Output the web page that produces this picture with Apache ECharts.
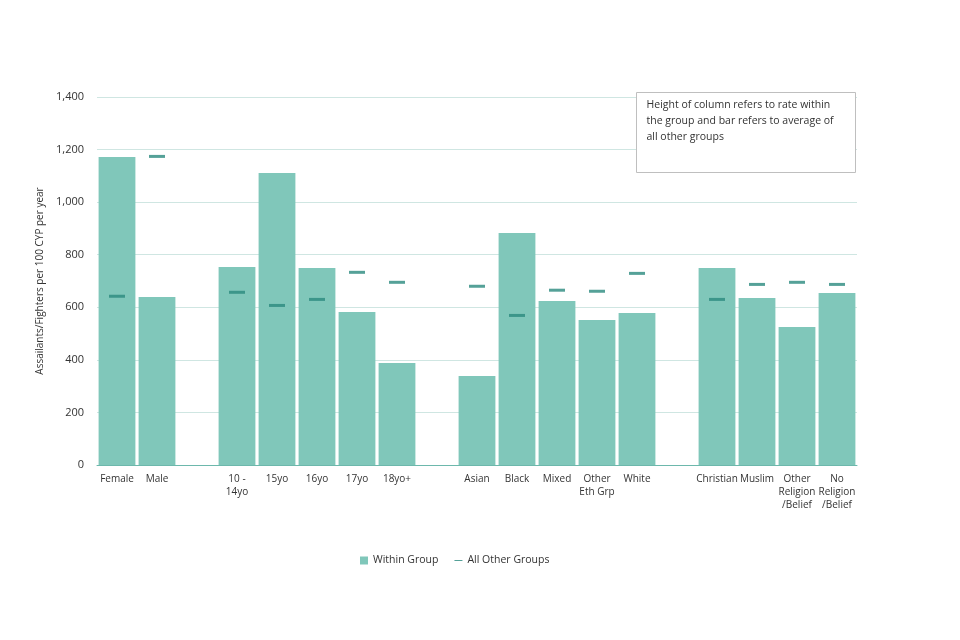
<!DOCTYPE html>
<html>
<head>
<meta charset="utf-8">
<script src="https://cdn.jsdelivr.net/npm/echarts@6/dist/echarts.min.js"></script>
<style>
html,body{margin:0;padding:0;background:#fff;}
#chart{width:960px;height:640px;}
</style>
</head>
<body>
<div id="chart"></div>
<script>
// Categories (blank entries are gaps between groups)
var categories = ['Female', 'Male', ' ', '10 -\n14yo', '15yo', '16yo', '17yo', '18yo+', '  ',
  'Asian', 'Black', 'Mixed', 'Other\nEth Grp', 'White', '   ',
  'Christian', 'Muslim', 'Other\nReligion\n/Belief', 'No\nReligion\n/Belief'];
// Rate within the group (column height)
var withinGroup = [1172, 639, null, 753, 1111, 749, 582, 388, null,
  339, 883, 624, 552, 578, null,
  749, 635, 525, 654];
// Average of all other groups (dash marker)
var allOtherGroups = [642, 1174, null, 657, 607, 630, 733, 695, null,
  680, 569, 665, 661, 729, null,
  630, 687, 695, 687];
var yTicks = { min: 0, max: 1400, interval: 200 };
var noteText = 'Height of column refers to rate within\nthe group and bar refers to average of\nall other groups';

var chart = echarts.init(document.getElementById('chart'), null, { renderer: 'canvas' });
var font = "'Open Sans', 'Noto Sans', sans-serif";
chart.setOption({
  backgroundColor: '#ffffff',
  animation: false,
  textStyle: { fontFamily: font },
  grid: { left: 97, right: 103, top: 97, bottom: 175 },
  legend: {
    bottom: 69,
    left: 355,
    itemGap: 16,
    itemWidth: 8,
    itemHeight: 8,
    textStyle: { fontSize: 10.5, color: '#333', fontFamily: font },
    data: [
      { name: 'Within Group', icon: 'rect' },
      { name: 'All Other Groups', icon: 'path://M0,0L0,0ZM0,3.5L8,3.5L8,4.5L0,4.5ZM8,8L8,8Z' }
    ]
  },
  xAxis: {
    type: 'category',
    data: categories,
    axisLine: { lineStyle: { color: '#6DB8AC', width: 1 } },
    axisTick: { show: false },
    axisLabel: { fontSize: 10, color: '#333', interval: 0, lineHeight: 13, margin: 8, fontFamily: font }
  },
  yAxis: {
    type: 'value',
    min: yTicks.min, max: yTicks.max, interval: yTicks.interval,
    name: 'Assailants/Fighters per 100 CYP per year',
    nameLocation: 'middle',
    nameGap: 46,
    nameTextStyle: { fontSize: 10, color: '#333', fontFamily: font },
    axisLine: { show: false },
    axisTick: { show: false },
    axisLabel: { fontSize: 11, color: '#333', margin: 13, fontFamily: font,
      formatter: function (v) { return v.toLocaleString('en-US'); } },
    splitLine: { lineStyle: { color: '#CFE6E2', width: 1 } }
  },
  series: [
    {
      name: 'Within Group',
      type: 'bar',
      data: withinGroup,
      barWidth: '92%',
      itemStyle: { color: '#80C7BA' },
      z: 2
    },
    {
      name: 'All Other Groups',
      type: 'scatter',
      data: allOtherGroups,
      symbol: 'rect',
      symbolSize: [16, 3],
      itemStyle: { color: '#2A8A7E' },
      z: 3
    }
  ],
  graphic: [
    {
      type: 'group',
      left: 636, top: 92,
      z: 100,
      children: [
        { type: 'rect', z: 100, shape: { x: 0, y: 0, width: 219, height: 80 },
          style: { fill: '#fff', stroke: '#BFBFBF', lineWidth: 1 } },
        { type: 'text', z: 101, x: 10, y: 5,
          style: { text: noteText, fontSize: 10.5, lineHeight: 16, fill: '#333', fontFamily: font } }
      ]
    }
  ]
});
</script>
</body>
</html>
